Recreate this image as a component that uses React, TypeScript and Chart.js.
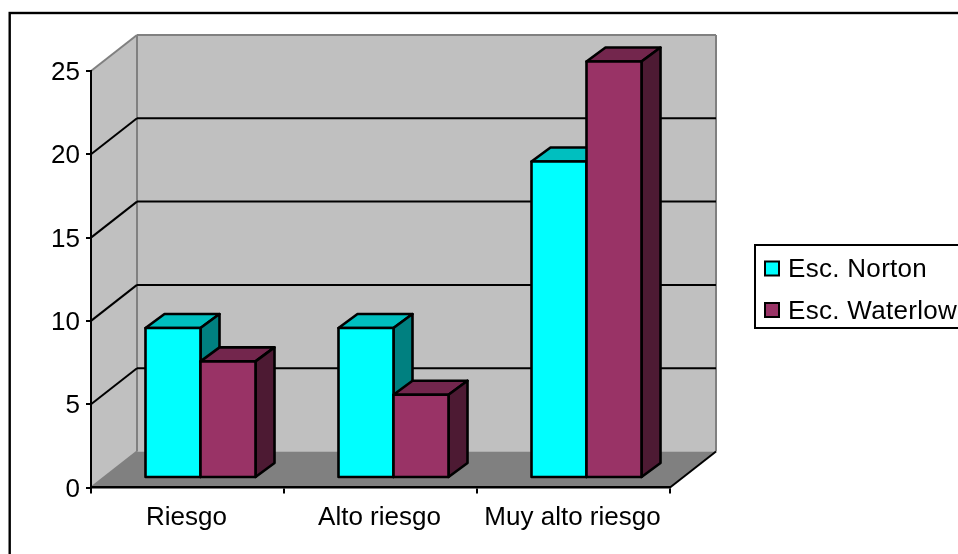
import React, { useEffect, useRef } from "react";
import { Chart, registerables } from "chart.js";

Chart.register(...registerables);

const categories = ["Riesgo", "Alto riesgo", "Muy alto riesgo"];
const nortonValues = [9, 9, 19];
const waterlowValues = [7, 5, 25];
const seriesNames = ["Esc. Norton", "Esc. Waterlow"];
const yTicks = [0, 5, 10, 15, 20, 25];

const FONT = '"Liberation Sans", Arial, sans-serif';
const FONT_SIZE = 26;

// Depth of the box the bars stand in, and of the bars themselves.
const WALL_DX = 46;
const WALL_DY = 36;
const BAR_SHIFT_X = 13;
const BAR_SHIFT_Y = 9.5;
const BAR_DX = 19;
const BAR_DY = 14;
const BAR_LINE = 2.6;

const faces = [
  { front: "#00ffff", top: "#00bfbf", side: "#008080" },
  { front: "#993366", top: "#73264d", side: "#4d1a33" },
];

const polygon = (ctx: CanvasRenderingContext2D, pts: number[][], fill: string | null, stroke: string | null, lw = 2) => {
  ctx.beginPath();
  pts.forEach(([x, y], i) => (i ? ctx.lineTo(x, y) : ctx.moveTo(x, y)));
  ctx.closePath();
  if (fill) {
    ctx.fillStyle = fill;
    ctx.fill();
  }
  if (stroke) {
    ctx.strokeStyle = stroke;
    ctx.lineWidth = lw;
    ctx.lineJoin = "round";
    ctx.stroke();
  }
};

const segment = (ctx: CanvasRenderingContext2D, x1: number, y1: number, x2: number, y2: number, color: string, lw = 2) => {
  ctx.beginPath();
  ctx.moveTo(x1, y1);
  ctx.lineTo(x2, y2);
  ctx.strokeStyle = color;
  ctx.lineWidth = lw;
  ctx.stroke();
};

// Outer frame, walls, floor and the grid lines that run across them.
const boxPlugin = {
  id: "box3d",
  beforeDraw(chart: any) {
    const { ctx, chartArea: a, scales } = chart;
    const y = scales.y;
    ctx.save();
    ctx.fillStyle = "#ffffff";
    ctx.fillRect(0, 0, chart.width, chart.height);
    ctx.strokeStyle = "#000000";
    ctx.lineWidth = 2.4;
    ctx.strokeRect(9.7, 13, 970, 600);

    const y0 = y.getPixelForValue(0);
    const yTop = y.getPixelForValue(25);
    polygon(ctx, [[a.left + WALL_DX, yTop - WALL_DY], [a.right + WALL_DX, yTop - WALL_DY], [a.right + WALL_DX, y0 - WALL_DY], [a.left + WALL_DX, y0 - WALL_DY]], "#c0c0c0", null);
    polygon(ctx, [[a.left, yTop], [a.left + WALL_DX, yTop - WALL_DY], [a.left + WALL_DX, y0 - WALL_DY], [a.left, y0]], "#c0c0c0", null);
    polygon(ctx, [[a.left, y0], [a.right, y0], [a.right + WALL_DX, y0 - WALL_DY], [a.left + WALL_DX, y0 - WALL_DY]], "#808080", null);

    // Wall outlines
    segment(ctx, a.left, yTop, a.left + WALL_DX, yTop - WALL_DY, "#808080");
    segment(ctx, a.left + WALL_DX, yTop - WALL_DY, a.right + WALL_DX, yTop - WALL_DY, "#808080");
    segment(ctx, a.right + WALL_DX, yTop - WALL_DY, a.right + WALL_DX, y0 - WALL_DY, "#808080");
    segment(ctx, a.left + WALL_DX, yTop - WALL_DY, a.left + WALL_DX, y0 - WALL_DY, "#808080");
    segment(ctx, a.left, y0, a.left + WALL_DX, y0 - WALL_DY, "#808080");
    segment(ctx, a.right, y0, a.right + WALL_DX, y0 - WALL_DY, "#000000");

    for (const v of yTicks) {
      if (v === 0 || v === 25) continue;
      const p = y.getPixelForValue(v);
      segment(ctx, a.left, p, a.left + WALL_DX, p - WALL_DY, "#000000");
      segment(ctx, a.left + WALL_DX, p - WALL_DY, a.right + WALL_DX, p - WALL_DY, "#000000");
    }
    ctx.restore();
  },
  // Norton goes down first so each Waterlow bar can overlap its neighbour's side.
  beforeDatasetsDraw(chart: any) {
    const { ctx } = chart;
    chart.data.datasets.forEach((_: any, di: number) => {
      const meta = chart.getDatasetMeta(di);
      const c = faces[di];
      meta.data.forEach((bar: any) => {
        const { x, y, width, base } = bar.getProps(["x", "y", "width", "base"], true);
        const l = x - width / 2;
        const r = x + width / 2;
        ctx.save();
        ctx.translate(BAR_SHIFT_X, -BAR_SHIFT_Y);
        polygon(ctx, [[l, y], [r, y], [r + BAR_DX, y - BAR_DY], [l + BAR_DX, y - BAR_DY]], c.top, "#000000", BAR_LINE);
        polygon(ctx, [[r, y], [r + BAR_DX, y - BAR_DY], [r + BAR_DX, base - BAR_DY], [r, base]], c.side, "#000000", BAR_LINE);
        polygon(ctx, [[l, y], [r, y], [r, base], [l, base]], c.front, "#000000", BAR_LINE);
        ctx.restore();
      });
    });
    return false;
  },
  // Legend panel, cut off by the right edge of the canvas.
  afterDraw(chart: any) {
    const { ctx } = chart;
    ctx.save();
    ctx.fillStyle = "#ffffff";
    ctx.strokeStyle = "#000000";
    ctx.lineWidth = 2;
    ctx.fillRect(755, 245, 220, 83);
    ctx.strokeRect(755, 245, 220, 83);
    ctx.font = `${FONT_SIZE}px ${FONT}`;
    (ctx as any).letterSpacing = "0.3px";
    ctx.textBaseline = "middle";
    chart.data.datasets.forEach((ds: any, i: number) => {
      const cy = 268.5 + i * 41.5;
      ctx.fillStyle = ds.backgroundColor;
      ctx.fillRect(765, cy - 7, 14, 14);
      ctx.strokeRect(765, cy - 7, 14, 14);
      ctx.fillStyle = "#000000";
      ctx.fillText(ds.label, 788, cy + 1.5);
    });
    ctx.restore();
  },
};

export default function App() {
  const ref = useRef<HTMLCanvasElement>(null);
  useEffect(() => {
    const chart = new Chart(ref.current!, {
      type: "bar",
      data: {
        labels: categories,
        datasets: [
          { label: seriesNames[0], data: nortonValues, backgroundColor: faces[0].front },
          { label: seriesNames[1], data: waterlowValues, backgroundColor: faces[1].front },
        ],
      } as any,
      options: {
        responsive: false,
        animation: false,
        layout: { padding: { left: 0, top: 71, right: 288, bottom: 0 } },
        plugins: { legend: { display: false }, title: { display: false }, tooltip: { enabled: false } },
        datasets: { bar: { categoryPercentage: 0.57, barPercentage: 1 } },
        scales: {
          x: {
            offset: true,
            grid: { display: true, drawOnChartArea: false, drawTicks: true, tickLength: 6, color: "#000000", lineWidth: 2, offset: true },
            border: { display: true, color: "#000000", width: 2.4 },
            ticks: { color: "#000000", font: { family: FONT, size: FONT_SIZE }, padding: 9, maxRotation: 0, autoSkip: false, labelOffset: -1 },
            afterFit(s: any) {
              s.height = 66.5;
            },
          },
          y: {
            min: 0,
            max: 25,
            grid: { display: true, drawOnChartArea: false, drawTicks: true, tickLength: 5, color: "#000000", lineWidth: 2 },
            border: { display: true, color: "#000000", width: 2 },
            ticks: { stepSize: 5, color: "#000000", font: { family: FONT, size: FONT_SIZE }, padding: 6, labelOffset: 2 },
            afterFit(s: any) {
              s.width = 91;
            },
          },
        },
      } as any,
      plugins: [boxPlugin as any],
    });
    return () => chart.destroy();
  }, []);
  return (
    <div style={{ position: "fixed", left: 0, top: 0, width: 958, height: 554 }}>
      <canvas ref={ref} width={958} height={554} style={{ display: "block" }} />
    </div>
  );
}
